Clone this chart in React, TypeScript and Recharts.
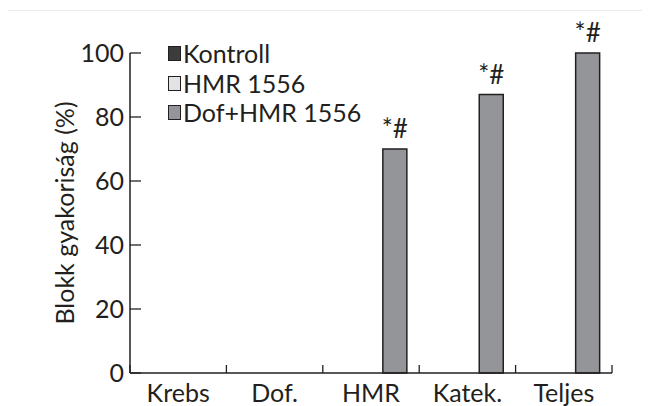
import React from 'react';
import { BarChart, Bar, XAxis, YAxis, Legend, LabelList } from 'recharts';

const categories = ['Krebs', 'Dof.', 'HMR', 'Katek.', 'Teljes'];
const kontroll = [0, 0, 0, 0, 0];
const hmr1556 = [0, 0, 0, 0, 0];
const dofHmr = [0, 0, 70, 87, 100];
const annotations = ['', '', '*#', '*#', '*#'];
const yTicks = [0, 20, 40, 60, 80, 100];

const seriesNames = ['Kontroll', 'HMR 1556', 'Dof+HMR 1556'];
const seriesColors = ['#3c3c3c', '#e2e3e4', '#939598'];

const data = categories.map((c, i) => ({
  cat: c,
  kontroll: kontroll[i],
  hmr: hmr1556[i],
  dof: dofHmr[i],
  ann: annotations[i],
}));

const INK = '#231f20';
const FONT = 'Lato, sans-serif';

const XTick = (props: any) => {
  const { x, y, payload, index, visibleTicksCount, width } = props;
  const half =
    payload && typeof payload.offset === 'number' && payload.offset > 0
      ? payload.offset
      : width / (visibleTicksCount || 5) / 2;
  const axisY = y - 11;
  return (
    <g>
      <line x1={x - half} x2={x - half} y1={axisY} y2={axisY - 8} stroke={INK} strokeWidth={1.3} />
      {index === visibleTicksCount - 1 && (
        <line x1={x + half} x2={x + half} y1={axisY} y2={axisY - 8} stroke={INK} strokeWidth={1.3} />
      )}
      <text x={x} y={y} dy="0.71em" textAnchor="middle" fill={INK} fontSize={25} fontFamily={FONT}>
        {payload.value}
      </text>
    </g>
  );
};

const LegendContent = (props: any) => {
  const payload = [...(props.payload || [])].sort(
    (a: any, b: any) => seriesNames.indexOf(a.value) - seriesNames.indexOf(b.value)
  );
  return (
    <div style={{ fontFamily: FONT, fontSize: 25, color: INK, lineHeight: '29.5px' }}>
      {payload.map((p: any, i: number) => (
        <div key={i} style={{ display: 'flex', alignItems: 'center', whiteSpace: 'nowrap' }}>
          <span
            style={{
              display: 'inline-block',
              width: 11,
              height: 13,
              background: p.color,
              border: `1.2px solid ${INK}`,
              marginRight: 2,
            }}
          />
          <span>{p.value}</span>
        </div>
      ))}
    </div>
  );
};

export default function App() {
  return (
    <div style={{ position: 'relative', marginLeft: -8, marginTop: -8, width: 650, height: 406, background: '#fff' }}>
      <div
        style={{
          position: 'absolute',
          left: 4,
          top: 10,
          width: 646,
          height: 396,
          borderTop: '1.5px solid #ebebeb',
          borderLeft: '1.5px solid #ebebeb',
          boxSizing: 'border-box',
        }}
      />
      <div style={{ position: 'absolute', left: 0, top: 0 }}>
        <BarChart
          width={650}
          height={406}
          data={data}
          margin={{ top: 53, right: 38, bottom: 3, left: 0 }}
          barCategoryGap="12.5%"
          barGap={0}
        >
          <XAxis
            dataKey="cat"
            height={30}
            tickLine={false}
            tickSize={0}
            tickMargin={11}
            axisLine={{ stroke: INK, strokeWidth: 1.5 }}
            tick={<XTick />}
            interval={0}
          />
          <YAxis
            width={130}
            domain={[0, 100]}
            ticks={yTicks}
            tickSize={-11}
            tickMargin={17}
            axisLine={{ stroke: INK, strokeWidth: 1.5 }}
            tickLine={{ stroke: INK, strokeWidth: 1.3 }}
            tick={{ fill: INK, fontSize: 25, fontFamily: FONT }}
            label={{
              value: 'Blokk gyakoriság (%)',
              angle: -90,
              position: 'insideLeft',
              offset: 65,
              style: { textAnchor: 'middle', fill: INK, fontSize: 25, fontFamily: FONT },
            }}
          />
          <Legend
            layout="vertical"
            align="center"
            verticalAlign="middle"
            content={<LegendContent />}
            wrapperStyle={{ position: 'absolute', left: 168, top: 39, width: 260, height: 90 }}
          />
          <Bar dataKey="kontroll" name={seriesNames[0]} fill={seriesColors[0]} stroke={INK} strokeWidth={1.5} isAnimationActive={false} />
          <Bar dataKey="hmr" name={seriesNames[1]} fill={seriesColors[1]} stroke={INK} strokeWidth={1.5} isAnimationActive={false} />
          <Bar dataKey="dof" name={seriesNames[2]} fill={seriesColors[2]} stroke={INK} strokeWidth={1.5} isAnimationActive={false}>
            <LabelList dataKey="ann" position="top" offset={11} fill={INK} fontSize={26} fontFamily={FONT} />
          </Bar>
        </BarChart>
      </div>
    </div>
  );
}
